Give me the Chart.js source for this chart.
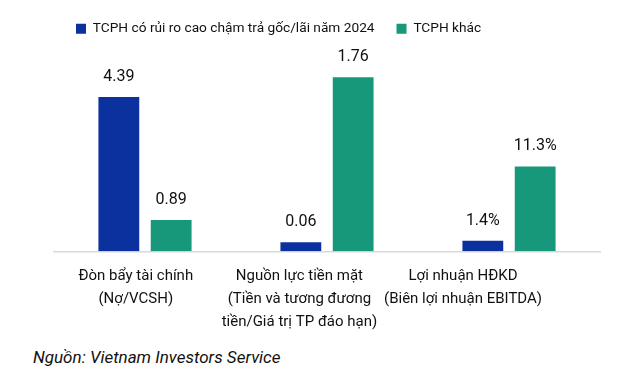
<!DOCTYPE html>
<html>
<head>
<meta charset="utf-8">
<script src="https://cdn.jsdelivr.net/npm/chart.js@4/dist/chart.umd.min.js"></script>
<style>
    body { margin: 0; background: #fff; }
    #wrap { position: relative; width: 620px; height: 384px; }
    #chart { position: absolute; left: 0; top: 0; }
    #source {
        position: absolute; left: 33px; top: 347px;
        font: italic 17px Roboto, sans-serif; color: #111;
    }
</style>
</head>
<body>
<div id="wrap">
    <canvas id="chart" width="620" height="347"></canvas>
    <div id="source">Nguồn: Vietnam Investors Service</div>
</div>
<script>
const FONT = 'Roboto, sans-serif';

const categories = [
    ['Đòn bẩy tài chính', '(Nợ/VCSH)'],
    ['Nguồn lực tiền mặt', '(Tiền và tương đương', 'tiền/Giá trị TP đáo hạn)'],
    ['Lợi nhuận HĐKD', '(Biên lợi nhuận EBITDA)']
];
const seriesNames = ['TCPH có rủi ro cao chậm trả gốc/lãi năm 2024', 'TCPH khác'];
const riskyValues = [4.39, 0.06, 1.4];
const otherValues = [0.89, 1.76, 11.3];
// each group has its own (hidden) scale, like the original
const groupMax = [5.85, 2.08, 27.4];
const valueSuffix = ['', '', '%'];
const valueDecimals = [2, 2, 1];
const colors = ['#0B319E', '#17987A'];


const seriesValues = [riskyValues, otherValues];
let datasets = [], scales = {};
categories.forEach((cat, i) => {
    seriesValues.forEach((values, s) => {
        datasets.push({
            label: seriesNames[s],
            data: categories.map((_, j) => j === i ? values[i] : null),
            backgroundColor: colors[s],
            xAxisID: 'x',
            yAxisID: 'y' + i,
            skipNull: true,
            minBarLength: 9,
            categoryPercentage: 0.575,
            barPercentage: 0.78
        });
    });
    scales['y' + i] = { display: false, min: 0, max: groupMax[i] };
});

scales.x = {
    type: 'category',
    weight: 0,
    grid: { display: false, drawTicks: false },
    ticks: { display: false },
    border: { display: true, color: '#d9d9d9', width: 1.5 }
};
// labels sit on their own axis (they are not centred under the bars in the source)
scales.xl = {
    type: 'linear',
    position: 'bottom',
    weight: 1,
    offset: false,
    min: 0, max: 3.337,
    grid: { display: false, drawTicks: false, offset: false },
    border: { display: false },
    afterBuildTicks: axis => { axis.ticks = categories.map((_, i) => ({ value: i + 0.5 })); },
    ticks: {
        autoSkip: false, maxRotation: 0, minRotation: 0, padding: 13,
        color: '#111',
        font: { family: FONT, size: 15, lineHeight: 1.55 },
        callback: (value, index) => categories[index]
    }
};

const valueLabels = {
    id: 'valueLabels',
    afterDatasetsDraw(chart) {
        const ctx = chart.ctx;
        ctx.save();
        ctx.fillStyle = '#111';
        ctx.font = '16px ' + FONT;
        ctx.textAlign = 'center';
        ctx.textBaseline = 'middle';
        chart.data.datasets.forEach((ds, d) => {
            const meta = chart.getDatasetMeta(d);
            meta.data.forEach((bar, j) => {
                const v = ds.data[j];
                if (v === null) return;
                ctx.fillText(v.toFixed(valueDecimals[j]) + valueSuffix[j], bar.x, bar.y - 20);
            });
        });
        ctx.restore();
    }
};

new Chart(document.getElementById('chart').getContext('2d'), {
    type: 'bar',
    data: { labels: categories, datasets: datasets },
    options: {
        responsive: false,
        animation: false,
        layout: { padding: { left: 54, right: 20, top: 0 } },
        plugins: {
            legend: {
                fullSize: false,
                align: 'start',
                labels: {
                    boxWidth: 10, boxHeight: 10, padding: 22,
                    color: '#111',
                    font: { family: FONT, size: 13.7 },
                    filter: item => item.datasetIndex < 2
                }
            },
            tooltip: { enabled: false }
        },
        scales: scales
    },
    plugins: [valueLabels]
});
</script>
</body>
</html>
